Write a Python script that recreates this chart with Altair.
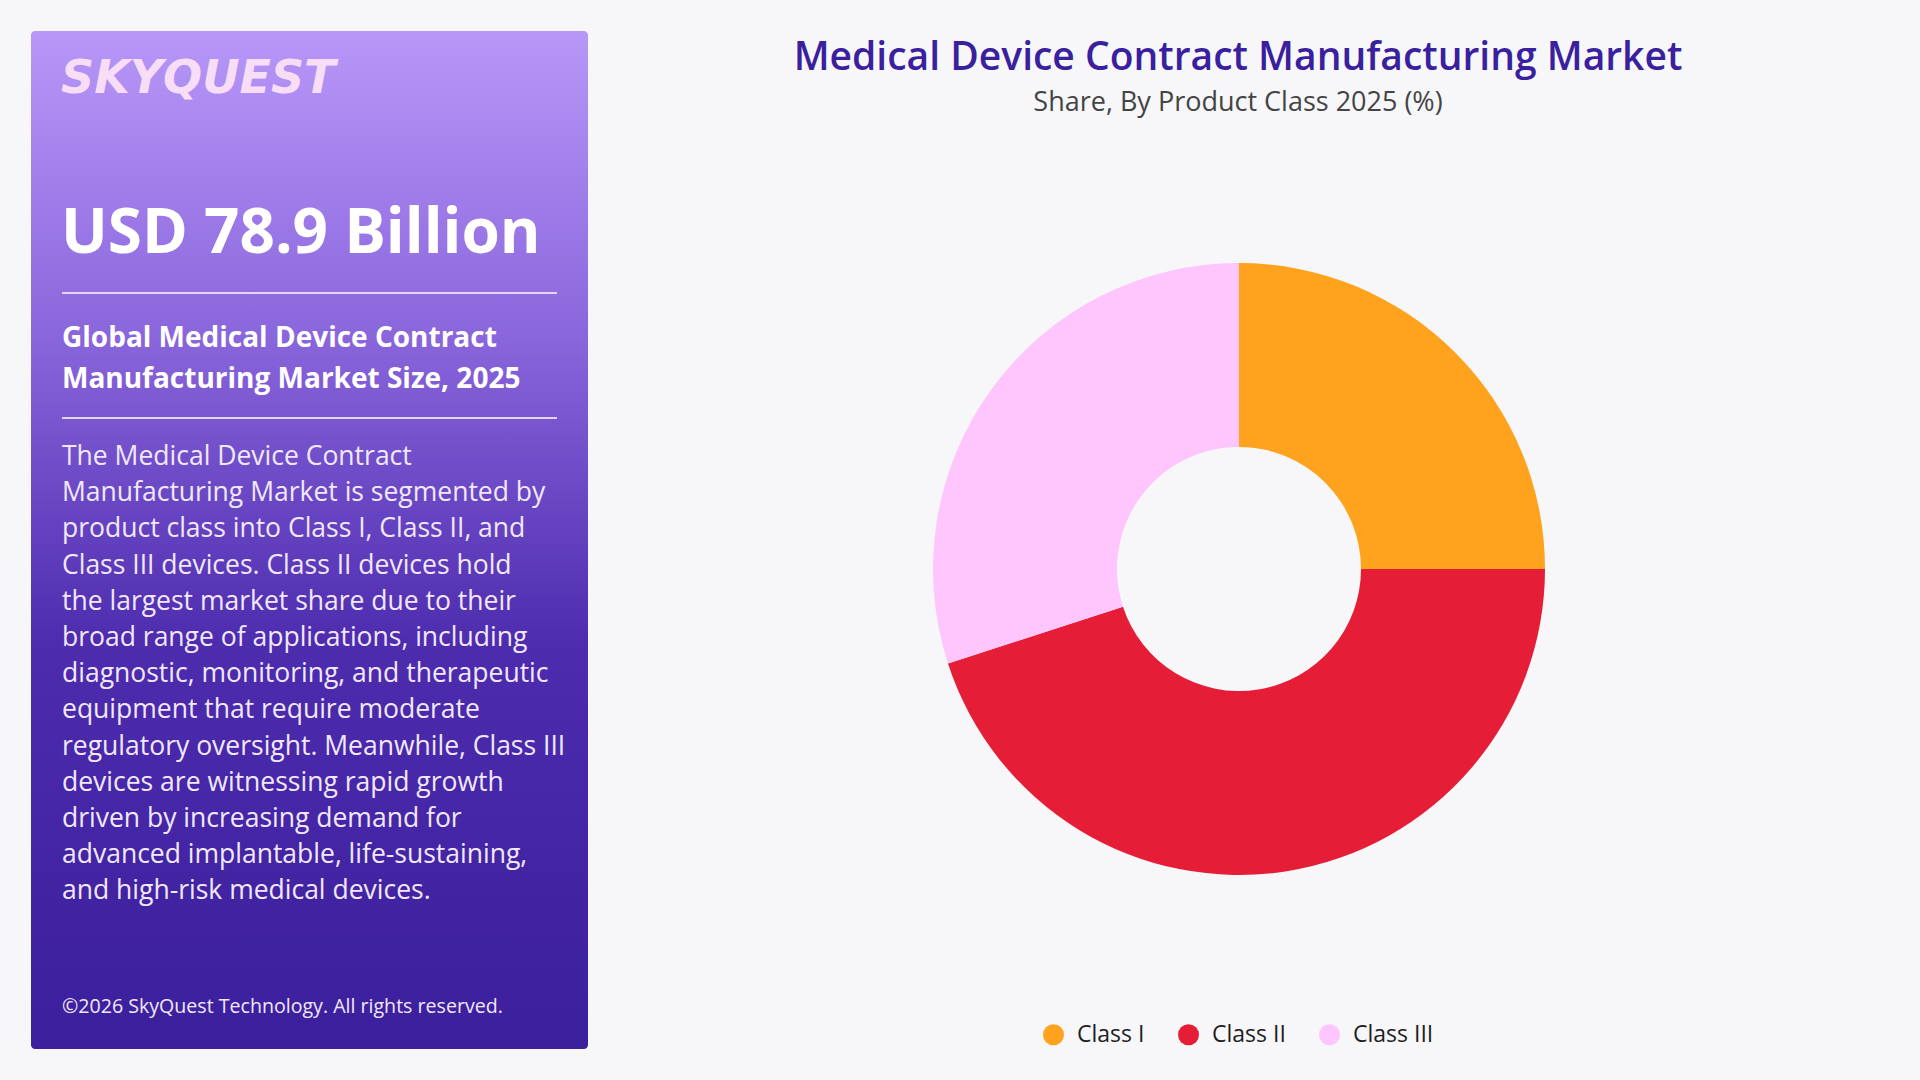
import altair as alt
import pandas as pd

# ---- data ----
classes = ["Class I", "Class II", "Class III"]
shares = [25, 45, 30]
colors = ["#FFA21E", "#E51D37", "#FFC6FD"]

chart_title = "Medical Device Contract Manufacturing Market"
chart_subtitle = "Share, By Product Class 2025 (%)"
brand = "SKYQUEST"
headline = "USD 78.9 Billion"
panel_heading = ["Global Medical Device Contract", "Manufacturing Market Size, 2025"]
body_lines = [
    "The Medical Device Contract",
    "Manufacturing Market is segmented by",
    "product class into Class I, Class II, and",
    "Class III devices. Class II devices hold",
    "the largest market share due to their",
    "broad range of applications, including",
    "diagnostic, monitoring, and therapeutic",
    "equipment that require moderate",
    "regulatory oversight. Meanwhile, Class III",
    "devices are witnessing rapid growth",
    "driven by increasing demand for",
    "advanced implantable, life-sustaining,",
    "and high-risk medical devices.",
]
copyright_text = "©2026 SkyQuest Technology. All rights reserved."

FONT = "Open Sans"
one = pd.DataFrame({"k": [0]})

pie_df = pd.DataFrame({"Class": classes, "Share": shares, "order": list(range(len(classes)))})

panel = alt.Chart(one).mark_rect(
    cornerRadius=4,
    fill=alt.Gradient(
        gradient="linear",
        stops=[
            alt.GradientStop(color="#b897f8", offset=0),
            alt.GradientStop(color="#8a66dc", offset=0.3),
            alt.GradientStop(color="#4d2cae", offset=0.6),
            alt.GradientStop(color="#3b1f9c", offset=1),
        ],
        x1=0, x2=0, y1=0, y2=1,
    ),
).encode(x=alt.value(31), x2=alt.value(588), y=alt.value(31), y2=alt.value(1049))


def txt(text, x, y, size, color, weight="normal", align="left", baseline="middle",
        style="normal", line_height=None, font=FONT):
    kw = dict(font=font, fontSize=size, fontWeight=weight, color=color, align=align,
              baseline=baseline, fontStyle=style)
    if line_height is not None:
        kw["lineHeight"] = line_height
    return alt.Chart(one).mark_text(**kw).encode(
        x=alt.value(x), y=alt.value(y), text=alt.value(text)
    )


def rule(y):
    return alt.Chart(one).mark_rule(color="#ece3fb", strokeWidth=2, opacity=0.9).encode(
        x=alt.value(62), x2=alt.value(557), y=alt.value(y)
    )


logo = txt(brand, 61, 79, 46, "#f7def6", weight="bold", style="italic", font="DejaVu Sans")
head = txt(headline, 61, 234, 62, "#ffffff", weight="bold")
heading = txt(panel_heading, 62, 325, 28, "#ffffff", weight="bold", baseline="top", line_height=40.5)
body = txt(body_lines, 62, 444, 26.5, "#f1e8fc", baseline="top", line_height=36.2)
copy = txt(copyright_text, 62, 1007, 19.6, "#f1e8fc")

title = txt(chart_title, 1238, 58, 39, "#3a1f9e", weight=600, align="center")
subtitle = txt(chart_subtitle, 1238, 103, 27, "#444444", align="center")

donut = alt.Chart(pie_df).mark_arc(innerRadius=122, outerRadius=306).encode(
    theta=alt.Theta("Share:Q", stack=True),
    order=alt.Order("order:Q"),
    color=alt.Color(
        "Class:N",
        scale=alt.Scale(domain=classes, range=colors),
        legend=alt.Legend(
            orient="none", legendX=1042, legendY=1023, direction="horizontal",
            title=None, symbolType="circle", symbolSize=441, symbolStrokeWidth=0,
            labelFont=FONT, labelFontSize=23, labelColor="#1e1e1e", labelOffset=12,
            columnPadding=32,
        ),
    ),
    x=alt.value(1239),
    y=alt.value(569),
)

chart = alt.layer(
    panel, rule(293), rule(418), logo, head, heading, body, copy, title, subtitle, donut
).properties(
    width=1920, height=1080, padding=0, autosize="none", background="#f7f7f9"
).configure_view(stroke=None)

chart.save("out.html", embed_options={"renderer": "svg", "actions": False})
